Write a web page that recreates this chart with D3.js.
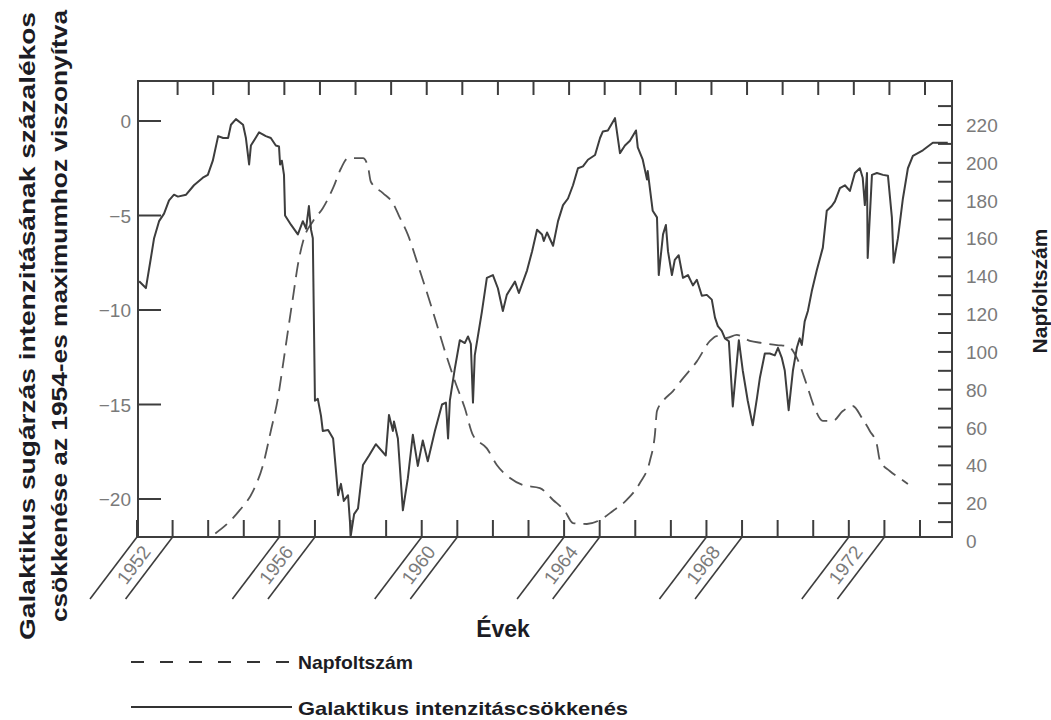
<!DOCTYPE html>
<html><head><meta charset="utf-8">
<script src="https://cdn.jsdelivr.net/npm/d3@7"></script>
<style>body{margin:0;background:#fff}svg{display:block}</style>
</head><body>
<svg id="chart" width="1051" height="720"></svg>
<script>
// ---------- data ----------
const tickYears = [1952,1953,1954,1955,1956,1957,1958,1959,1960,1961,1962,1963,1964,1965,1966,1967,1968,1969,1970,1971,1972,1973,1974];
const labelYears = [1952,1956,1960,1964,1968,1972];
const leftTicks = [0,-5,-10,-15,-20];
const rightLabelTicks = [0,20,40,60,80,100,120,140,160,180,200,220];
const rightMinorTicks = [10,20,30,40,50,60,70,80,90,100,110,120,130,140,150,160,170,180,190,200,210,220,230];

// Galactic cosmic-ray intensity decrease (%)
const galYear = [1952.06,1952.25,1952.39,1952.48,1952.62,1952.76,1952.90,1953.04,1953.15,1953.38,1953.60,1953.85,1953.99,1954.13,1954.28,1954.42,1954.56,1954.64,1954.78,1954.98,1955.06,1955.15,1955.20,1955.43,1955.62,1955.76,1955.90,1955.99,1956.02,1956.07,1956.13,1956.16,1956.33,1956.52,1956.66,1956.75,1956.83,1956.89,1956.94,1957.00,1957.08,1957.17,1957.22,1957.37,1957.51,1957.59,1957.65,1957.73,1957.81,1957.93,1957.96,1958.01,1958.10,1958.21,1958.35,1958.52,1958.71,1958.99,1959.08,1959.19,1959.22,1959.33,1959.47,1959.61,1959.75,1959.89,1960.03,1960.17,1960.37,1960.57,1960.68,1960.74,1960.79,1960.93,1961.07,1961.21,1961.30,1961.38,1961.44,1961.49,1961.69,1961.83,1962.00,1962.14,1962.28,1962.39,1962.62,1962.73,1962.96,1963.10,1963.24,1963.38,1963.43,1963.52,1963.69,1963.83,1963.97,1964.11,1964.25,1964.39,1964.53,1964.67,1964.87,1965.01,1965.09,1965.23,1965.43,1965.57,1965.71,1965.85,1966.02,1966.07,1966.21,1966.33,1966.35,1966.49,1966.61,1966.66,1966.78,1966.86,1966.92,1967.03,1967.11,1967.22,1967.34,1967.48,1967.62,1967.73,1967.87,1968.01,1968.15,1968.24,1968.32,1968.43,1968.52,1968.63,1968.74,1968.91,1969.02,1969.16,1969.30,1969.42,1969.50,1969.64,1969.78,1969.92,1970.01,1970.12,1970.20,1970.31,1970.43,1970.54,1970.62,1970.68,1970.76,1970.85,1970.96,1971.10,1971.27,1971.38,1971.52,1971.61,1971.75,1971.89,1972.03,1972.17,1972.31,1972.39,1972.45,1972.51,1972.53,1972.65,1972.79,1972.96,1973.10,1973.21,1973.26,1973.38,1973.52,1973.66,1973.80,1974.08,1974.36,1974.78];
const galValue = [-8.48,-8.84,-7.25,-6.2,-5.3,-4.9,-4.2,-3.9,-4.0,-3.9,-3.4,-3.0,-2.85,-2.1,-0.8,-0.9,-0.9,-0.2,0.1,-0.2,-0.9,-2.3,-1.3,-0.6,-0.8,-0.9,-1.3,-1.35,-2.3,-2.1,-2.85,-5.0,-5.5,-6.0,-5.3,-5.7,-4.5,-5.75,-6.2,-14.8,-14.7,-15.6,-16.4,-16.35,-16.8,-18.5,-19.8,-19.2,-20.1,-19.8,-20.6,-21.9,-20.8,-20.5,-18.2,-17.7,-17.1,-17.7,-15.55,-16.4,-15.9,-16.8,-20.6,-18.9,-16.6,-18.25,-16.9,-18.0,-16.4,-15.0,-14.9,-16.8,-14.8,-13.1,-11.6,-11.75,-11.4,-11.8,-14.9,-12.4,-10.1,-8.3,-8.15,-8.85,-10.05,-9.2,-8.5,-9.1,-7.9,-6.9,-5.75,-6.0,-6.35,-5.9,-6.6,-5.3,-4.45,-4.1,-3.4,-2.5,-2.4,-2.05,-1.8,-0.9,-0.55,-0.5,0.15,-1.7,-1.3,-1.05,-0.5,-1.4,-2.05,-3.1,-2.65,-4.75,-5.1,-8.15,-6.0,-5.5,-6.9,-8.15,-7.35,-7.1,-8.3,-8.15,-8.7,-8.4,-9.25,-9.2,-9.45,-10.4,-10.85,-11.1,-11.5,-11.65,-15.1,-11.6,-13.2,-14.8,-16.1,-14.65,-13.6,-12.3,-12.3,-12.4,-12.0,-12.55,-13.2,-15.3,-13.2,-12.0,-11.5,-11.85,-10.6,-10.05,-9.0,-7.9,-6.7,-4.75,-4.5,-4.25,-3.55,-3.4,-3.7,-2.75,-2.5,-3.0,-4.45,-2.75,-7.25,-2.85,-2.75,-2.85,-2.9,-5.1,-7.5,-6.2,-4.1,-2.5,-1.85,-1.55,-1.15,-1.15];

// Sunspot number (smoothed)
const sunYear = [1954.20,1954.50,1954.87,1955.26,1955.54,1955.76,1955.96,1956.10,1956.24,1956.38,1956.52,1956.69,1956.94,1957.22,1957.51,1957.73,1957.93,1958.15,1958.35,1958.49,1958.57,1958.91,1959.19,1959.36,1959.61,1959.95,1960.31,1960.65,1960.93,1961.21,1961.44,1961.83,1962.11,1962.48,1962.84,1963.32,1963.69,1964.02,1964.25,1964.64,1965.01,1965.37,1965.76,1966.13,1966.41,1966.55,1966.61,1966.78,1967.06,1967.34,1967.73,1968.10,1968.29,1968.57,1968.85,1969.22,1969.58,1969.98,1970.29,1970.54,1970.82,1971.04,1971.27,1971.55,1971.83,1972.11,1972.37,1972.59,1972.79,1972.87,1973.15,1973.43,1973.66];
const sunValue = [4,8.5,15.9,26.4,40.2,58.2,75.6,93,111,128.5,146,160,169,176,186.7,197,202.5,202.5,202.5,198,190,184,178.7,172,162,142.8,121.6,100.5,84.6,70.3,56,49,40.2,33.3,29.6,28,21.7,15.9,9.5,9.0,11.1,15.9,21.7,30.7,42.3,56,68.7,74,79.3,86,95,105.8,108.4,107.4,109,105.8,104.7,103.6,103,96.8,82.5,70.3,63.5,63.5,68.7,71.4,65,58.2,50.8,42.8,37,33.3,30.1];

// ---------- layout ----------
const svg = d3.select("#chart");
const frame = {left:138, top:81, right:952, bottom:537};
const x = d3.scaleLinear().domain([1952,1974]).range([137,920]);
const yL = d3.scaleLinear().domain([-20,0]).range([499,121]);
const yR = d3.scaleLinear().domain([0,220]).range([541,125]);
const ink = "#3d3d3d";
const labelGray = "#7a7a7a";
const font = "'Liberation Sans', Arial, Helvetica, sans-serif";

// frame
svg.append("path")
  .attr("d", `M${frame.left},${frame.top}H${frame.right}V${frame.bottom}H${frame.left}Z`)
  .attr("fill","none").attr("stroke",ink).attr("stroke-width",2);

// bottom ticks (pointing up)
svg.append("g").selectAll("line").data(tickYears).join("line")
  .attr("x1",d=>x(d)).attr("x2",d=>x(d))
  .attr("y1",frame.bottom).attr("y2",frame.bottom-17)
  .attr("stroke",ink).attr("stroke-width",2);

// top ticks (pointing down), slightly offset as in original drawing
svg.append("g").attr("transform","translate(5,0)").selectAll("line").data(tickYears.slice(1)).join("line")
  .attr("x1",d=>x(d)).attr("x2",d=>x(d))
  .attr("y1",frame.top).attr("y2",frame.top+14)
  .attr("stroke",ink).attr("stroke-width",2);

// left ticks
svg.append("g").selectAll("line").data(leftTicks).join("line")
  .attr("x1",frame.left).attr("x2",frame.left+23)
  .attr("y1",d=>yL(d)).attr("y2",d=>yL(d))
  .attr("stroke",ink).attr("stroke-width",2);
svg.append("g").selectAll("text").data(leftTicks).join("text")
  .attr("x",131).attr("y",d=>yL(d)+7)
  .attr("text-anchor","end")
  .attr("font-family",font).attr("font-size",19).attr("fill",labelGray)
  .text(d=> d===0 ? "0" : "\u2212"+Math.abs(d));

// right ticks
svg.append("g").selectAll("line").data(rightMinorTicks).join("line")
  .attr("x1",frame.right).attr("x2",frame.right-14)
  .attr("y1",d=>yR(d)).attr("y2",d=>yR(d))
  .attr("stroke",ink).attr("stroke-width",2);
svg.append("g").selectAll("text").data(rightLabelTicks).join("text")
  .attr("x",966).attr("y",d=>yR(d)+7)
  .attr("font-family",font).attr("font-size",19).attr("fill",labelGray)
  .text(d=>d);

// slanted year labels
const slantDx = -47, slantDy = 62;
const angle = -Math.atan2(slantDy, -slantDx)*180/Math.PI;
const yl = svg.append("g");
labelYears.forEach(yr=>{
  [yr, yr+1].forEach(v=>{
    yl.append("line")
      .attr("x1",x(v)).attr("y1",frame.bottom)
      .attr("x2",x(v)+slantDx).attr("y2",frame.bottom+slantDy)
      .attr("stroke",ink).attr("stroke-width",1.6);
  });
  const cx = (x(yr)+x(yr+1))/2 + slantDx*0.45;
  const cy = frame.bottom + slantDy*0.45;
  yl.append("text")
    .attr("transform",`translate(${cx},${cy}) rotate(${angle})`)
    .attr("text-anchor","middle").attr("dy","0.35em")
    .attr("font-family",font).attr("font-size",19).attr("fill",labelGray)
    .text(yr);
});

// curves
const galData = galYear.map((d,i)=>[d,galValue[i]]);
const sunData = sunYear.map((d,i)=>[d,sunValue[i]]);
svg.append("path").datum(sunData)
  .attr("d", d3.line().x(d=>x(d[0])).y(d=>yR(d[1])).curve(d3.curveMonotoneX))
  .attr("fill","none").attr("stroke","#555").attr("stroke-width",1.8)
  .attr("stroke-dasharray","15,8");
svg.append("path").datum(galData)
  .attr("d", d3.line().x(d=>x(d[0])).y(d=>yL(d[1])))
  .attr("fill","none").attr("stroke",ink).attr("stroke-width",2)
  .attr("stroke-linejoin","round");

// axis titles
const titleColor = "#1c1c24";
svg.append("text")
  .attr("transform","translate(35,640) rotate(-90)")
  .attr("font-family",font).attr("font-size",22).attr("font-weight","bold").attr("fill",titleColor)
  .attr("textLength",628).attr("lengthAdjust","spacingAndGlyphs")
  .text("Galaktikus sugárzás intenzitásának százalékos");
svg.append("text")
  .attr("transform","translate(67,622) rotate(-90)")
  .attr("font-family",font).attr("font-size",22).attr("font-weight","bold").attr("fill",titleColor)
  .attr("textLength",612).attr("lengthAdjust","spacingAndGlyphs")
  .text("csökkenése az 1954-es maximumhoz viszonyítva");
svg.append("text")
  .attr("transform","translate(1047,291) rotate(-90)")
  .attr("text-anchor","middle")
  .attr("font-family",font).attr("font-size",21).attr("font-weight","bold").attr("fill",titleColor)
  .text("Napfoltszám");
svg.append("text")
  .attr("x",503).attr("y",637).attr("text-anchor","middle")
  .attr("font-family",font).attr("font-size",23).attr("font-weight","bold").attr("fill",titleColor)
  .text("Évek");

// legend
svg.append("line").attr("x1",131).attr("x2",290).attr("y1",662).attr("y2",662)
  .attr("stroke","#333").attr("stroke-width",2).attr("stroke-dasharray","13,16");
svg.append("text").attr("x",298).attr("y",669)
  .attr("font-family",font).attr("font-size",19).attr("font-weight","bold").attr("fill",titleColor)
  .attr("textLength",115).attr("lengthAdjust","spacingAndGlyphs")
  .text("Napfoltszám");
svg.append("line").attr("x1",131).attr("x2",292).attr("y1",707).attr("y2",707)
  .attr("stroke","#333").attr("stroke-width",2);
svg.append("text").attr("x",298).attr("y",715)
  .attr("font-family",font).attr("font-size",19).attr("font-weight","bold").attr("fill",titleColor)
  .attr("textLength",330).attr("lengthAdjust","spacingAndGlyphs")
  .text("Galaktikus intenzitáscsökkenés");
</script>
</body></html>
